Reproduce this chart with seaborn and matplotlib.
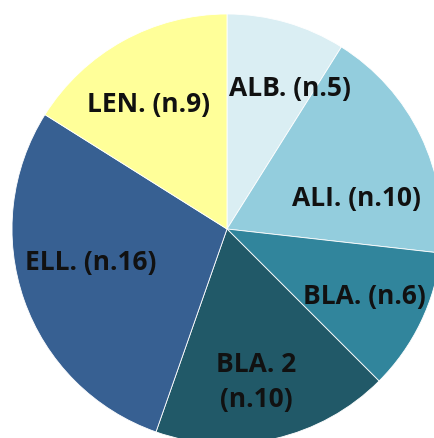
import matplotlib
matplotlib.use("Agg")
import matplotlib.pyplot as plt
import seaborn as sns
import numpy as np

# slice data, clockwise from 12 o'clock
groups = ["ALB.", "ALI.", "BLA.", "BLA. 2", "ELL.", "LEN."]
counts = [5, 10, 6, 10, 16, 9]
colors = ["#DAEEF3", "#93CDDD", "#31859C", "#215968", "#376092", "#FFFF99"]

# label placement (distance from centre as fraction of radius, angle nudge in degrees)
label_dist = [0.72, 0.62, 0.71, 0.72, 0.65, 0.69]
label_nudge = [-8, -12, 0, -2, -6, 3]

sns.set_theme(style="white")
plt.rcParams["font.family"] = ["Open Sans", "DejaVu Sans"]

fig = plt.figure(figsize=(4.34, 4.39), dpi=100)
ax = fig.add_axes([0, 0, 1, 1])

wedges, _ = ax.pie(counts, colors=colors, startangle=90, counterclock=False,
                   wedgeprops=dict(edgecolor="white", linewidth=0.6))

for w, g, n, d, nud in zip(wedges, groups, counts, label_dist, label_nudge):
    mid = np.deg2rad((w.theta1 + w.theta2) / 2 + nud)
    x, y = d * np.cos(mid), d * np.sin(mid)
    if g == "BLA. 2":
        txt = f"{g}\n(n.{n})"
    else:
        txt = f"{g} (n.{n})"
    ax.text(x, y, txt, ha="center", va="center", fontsize=19,
            fontweight="bold", color="#111111", linespacing=1.35)

ax.set_xlim(-227 / 215, 207 / 215)
ax.set_ylim(-209 / 215, 230 / 215)
ax.set_aspect("auto")
ax.axis("off")

fig.savefig("out.png", dpi=100, facecolor="white")
